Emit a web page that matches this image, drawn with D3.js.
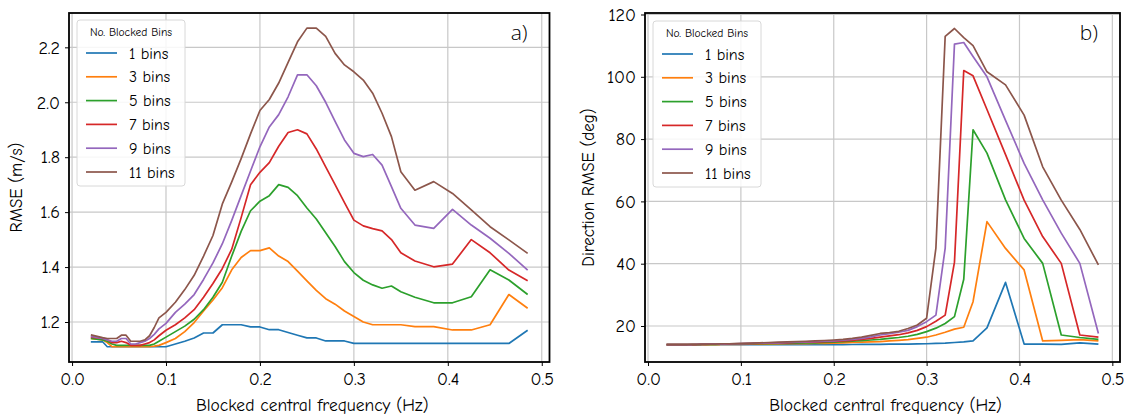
<!DOCTYPE html>
<html><head><meta charset="utf-8">
<script src="https://cdn.jsdelivr.net/npm/d3@7"></script>
<style>
html,body{margin:0;padding:0;background:#fff;}
svg text{font-family:"Comic Sans MS","Comic Neue","Open Sans",sans-serif;fill:#000;}
</style></head>
<body><svg id="c" width="1133" height="418"></svg>
<script>
// ---- data ----
const freqs = [0.02,0.0325,0.0375,0.0425,0.0475,0.0525,0.0575,0.0625,0.0675,0.0725,0.0775,0.0825,0.0875,0.0925,0.1,
 0.11,0.12,0.13,0.14,0.15,0.16,0.17,0.18,0.19,0.2,0.21,0.22,0.23,0.24,0.25,0.26,0.27,0.28,0.29,0.3,
 0.31,0.32,0.33,0.34,0.35,0.365,0.385,0.405,0.425,0.445,0.465,0.485];
const seriesLabels = ["1 bins","3 bins","5 bins","7 bins","9 bins","11 bins"];
const seriesColors = ["#1f77b4","#ff7f0e","#2ca02c","#d62728","#9467bd","#8c564b"];
const xTicks = [0.0,0.1,0.2,0.3,0.4,0.5];
const yTicksA = [1.2,1.4,1.6,1.8,2.0,2.2];
const yTicksB = [20,40,60,80,100,120];

// panel a) RMSE (m/s)
const rmse1 = [1.128,1.128,1.11,1.11,1.11,1.11,1.11,1.11,1.11,1.11,1.11,1.11,1.11,1.11,1.11,
 1.12,1.13,1.142,1.16,1.16,1.19,1.19,1.19,1.182,1.182,1.172,1.172,1.162,1.152,1.142,1.142,1.131,1.131,1.131,1.122,
 1.122,1.122,1.122,1.122,1.122,1.122,1.122,1.122,1.122,1.122,1.122,1.17];
const rmse3 = [1.14,1.135,1.125,1.11,1.11,1.11,1.11,1.11,1.11,1.11,1.11,1.11,1.112,1.115,1.125,
 1.14,1.165,1.198,1.24,1.28,1.325,1.39,1.435,1.46,1.46,1.47,1.44,1.42,1.385,1.35,1.315,1.285,1.265,1.24,1.22,
 1.2,1.19,1.19,1.19,1.19,1.183,1.183,1.171,1.171,1.19,1.30,1.25];
const rmse5 = [1.14,1.135,1.13,1.12,1.115,1.115,1.115,1.115,1.115,1.115,1.115,1.115,1.12,1.13,1.145,
 1.165,1.185,1.21,1.245,1.29,1.345,1.44,1.53,1.605,1.64,1.66,1.70,1.69,1.66,1.615,1.575,1.525,1.475,1.42,1.38,
 1.352,1.335,1.323,1.331,1.31,1.29,1.27,1.27,1.292,1.39,1.353,1.30];
const rmse7 = [1.145,1.14,1.135,1.125,1.125,1.13,1.125,1.115,1.115,1.115,1.12,1.125,1.135,1.15,1.17,
 1.19,1.215,1.245,1.29,1.34,1.395,1.465,1.58,1.70,1.745,1.78,1.84,1.89,1.90,1.885,1.83,1.765,1.70,1.635,1.571,
 1.55,1.54,1.532,1.50,1.452,1.422,1.401,1.411,1.50,1.452,1.389,1.35];
const rmse9 = [1.148,1.14,1.135,1.13,1.13,1.14,1.14,1.12,1.12,1.125,1.13,1.14,1.155,1.175,1.195,
 1.235,1.265,1.30,1.355,1.415,1.485,1.57,1.66,1.75,1.838,1.91,1.955,2.02,2.10,2.10,2.06,2.0,1.93,1.863,1.814,
 1.802,1.81,1.771,1.693,1.614,1.553,1.541,1.61,1.553,1.505,1.45,1.389];
const rmse11 = [1.153,1.143,1.14,1.14,1.14,1.152,1.152,1.13,1.13,1.13,1.135,1.15,1.18,1.215,1.235,
 1.272,1.318,1.37,1.44,1.515,1.63,1.71,1.795,1.885,1.97,2.01,2.07,2.145,2.22,2.27,2.27,2.24,2.178,2.136,2.111,
 2.081,2.033,1.96,1.875,1.747,1.68,1.711,1.668,1.608,1.547,1.499,1.45];

// panel b) Direction RMSE (deg)
const dir1 = [14.0,14.0,14.0,14.0,14.0,14.0,14.0,14.0,14.0,14.0,14.0,14.0,14.0,14.0,14.0,
 14.0,14.0,14.0,14.0,14.0,14.0,14.0,14.0,14.0,14.0,14.0,14.05,14.1,14.1,14.1,14.15,14.2,14.2,14.25,14.3,
 14.4,14.5,14.7,14.9,15.2,19.4,34.0,14.2,14.2,14.1,14.6,14.2];
const dir3 = [14.0,14.0,14.0,14.0,14.0,14.0,14.0,14.0,14.05,14.05,14.05,14.1,14.1,14.1,14.1,
 14.15,14.2,14.2,14.25,14.3,14.3,14.35,14.4,14.45,14.5,14.6,14.7,14.8,14.9,15.0,15.2,15.4,15.6,16.0,16.4,
 17.1,18.0,19.0,19.6,27.8,53.5,44.9,38.0,15.2,15.4,15.6,15.2];
const dir5 = [14.0,14.0,14.0,14.0,14.0,14.05,14.05,14.1,14.1,14.1,14.15,14.15,14.2,14.2,14.2,
 14.25,14.3,14.35,14.4,14.45,14.5,14.55,14.6,14.7,14.8,14.95,15.1,15.3,15.5,15.7,16.0,16.3,16.7,17.3,18.2,
 19.3,20.8,23.0,35.0,83.0,75.5,60.5,48.1,40.1,17.1,16.3,15.7];
const dir7 = [14.0,14.0,14.0,14.0,14.05,14.05,14.1,14.1,14.15,14.15,14.2,14.2,14.25,14.3,14.3,
 14.35,14.4,14.5,14.55,14.6,14.7,14.8,14.85,14.95,15.05,15.2,15.4,15.7,16.0,16.4,16.8,17.2,17.8,18.6,19.8,
 21.5,23.5,40.5,102.0,100.3,89.5,75.0,60.4,48.7,40.1,17.1,16.4];
const dir9 = [14.0,14.0,14.0,14.05,14.05,14.1,14.1,14.15,14.15,14.2,14.2,14.25,14.3,14.3,14.35,
 14.4,14.5,14.55,14.6,14.7,14.8,14.9,15.0,15.1,15.25,15.45,15.7,16.0,16.5,17.1,17.5,18.0,18.6,19.8,21.4,
 23.5,45.0,110.5,111.0,106.5,100.0,86.0,72.2,60.5,49.8,40.1,17.6];
const dir11 = [14.0,14.0,14.05,14.05,14.1,14.1,14.15,14.15,14.2,14.2,14.25,14.3,14.3,14.35,14.4,
 14.5,14.6,14.7,14.8,14.9,15.0,15.1,15.2,15.35,15.5,15.7,16.0,16.4,17.0,17.6,17.9,18.3,19.2,20.3,22.5,
 45.0,113.0,115.5,112.6,110.0,101.6,97.4,87.7,71.1,60.4,51.0,39.6];

const rmseSeries = [rmse1,rmse3,rmse5,rmse7,rmse9,rmse11];
const dirSeries = [dir1,dir3,dir5,dir7,dir9,dir11];

// ---- drawing ----
const svg = d3.select("#c");
const xDomain = [-0.00325, 0.50825];

function panel(o){
  const x = d3.scaleLinear().domain(xDomain).range([o.l, o.r]);
  const y = d3.scaleLinear().domain(o.yDomain).range([o.b, o.t]);
  const g = svg.append("g");
  // grid
  g.append("g").selectAll("line").data(xTicks).join("line")
    .attr("x1", d=>x(d)).attr("x2", d=>x(d)).attr("y1", o.t).attr("y2", o.b)
    .attr("stroke", "#c8c8c8").attr("stroke-width", 1.2);
  g.append("g").selectAll("line").data(o.yTicks).join("line")
    .attr("x1", o.l).attr("x2", o.r).attr("y1", d=>y(d)).attr("y2", d=>y(d))
    .attr("stroke", "#c8c8c8").attr("stroke-width", 1.2);
  // series
  const line = d3.line().x((d,i)=>x(freqs[i])).y(d=>y(d));
  g.append("g").selectAll("path").data(o.series).join("path")
    .attr("d", d=>line(d)).attr("fill","none")
    .attr("stroke", (d,i)=>seriesColors[i]).attr("stroke-width", 1.7)
    .attr("stroke-linejoin","round");
  // axes
  const xa = g.append("g").attr("transform", `translate(0,${o.b})`)
    .call(d3.axisBottom(x).tickValues(xTicks).tickFormat(d3.format(".1f")).tickSize(4).tickSizeOuter(0).tickPadding(6));
  const ya = g.append("g").attr("transform", `translate(${o.l},0)`)
    .call(d3.axisLeft(y).tickValues(o.yTicks).tickFormat(o.yFmt).tickSize(4).tickSizeOuter(0).tickPadding(5));
  [xa, ya].forEach(a=>{
    a.select(".domain").remove();
    a.selectAll(".tick line").attr("stroke","#000").attr("stroke-width",1);
    a.selectAll(".tick text").style("font-size","18px").attr("fill","#000");
  });
  // frame
  g.append("rect").attr("x", o.l).attr("y", o.t).attr("width", o.r-o.l).attr("height", o.b-o.t)
    .attr("fill","none").attr("stroke","#000").attr("stroke-width",1.8);
  // labels
  g.append("text").attr("x", (o.l+o.r)/2 + 3).attr("y", 411).attr("text-anchor","middle")
    .style("font-size","17.5px").text("Blocked central frequency (Hz)");
  g.append("text").attr("transform", `translate(${o.yLabX},${(o.t+o.b)/2}) rotate(-90)`)
    .attr("text-anchor","middle").style("font-size","17px").text(o.yLabel);
  g.append("text").attr("x", o.r-22).attr("y", 40).attr("text-anchor","end")
    .style("font-size","21px").style("font-family","'Open Sans',sans-serif").style("font-weight","300").text(o.tag);
  // legend
  const lg = g.append("g").attr("transform", `translate(${o.lgX},${o.lgY})`);
  lg.append("rect").attr("width", 108).attr("height", 166).attr("rx", 3)
    .attr("fill","#fff").attr("fill-opacity",0.85).attr("stroke","#d8d8d8").attr("stroke-width",1);
  lg.append("text").attr("x", 54).attr("y", 16).attr("text-anchor","middle")
    .style("font-size","11.5px").text("No. Blocked Bins");
  const it = lg.selectAll("g.it").data(seriesLabels).join("g").attr("class","it")
    .attr("transform",(d,i)=>`translate(0,${33 + i*23.8})`);
  it.append("line").attr("x1", 9).attr("x2", 40).attr("y1",0).attr("y2",0)
    .attr("stroke",(d,i)=>seriesColors[i]).attr("stroke-width",1.7);
  it.append("text").attr("x", 52).attr("y", 5.5).style("font-size","16px").text(d=>d);
}

panel({l:69, r:549.5, t:13, b:362, yDomain:[1.0544, 2.325], yTicks:yTicksA, yFmt:d3.format(".1f"),
  series:rmseSeries, yLabel:"RMSE (m/s)", yLabX:22, tag:"a)", lgX:77, lgY:20});
panel({l:645, r:1120, t:13, b:362, yDomain:[8.44, 120.48], yTicks:yTicksB, yFmt:d3.format("d"),
  series:dirSeries, yLabel:"Direction RMSE (deg)", yLabX:594, tag:"b)", lgX:653, lgY:21});
</script></body></html>
